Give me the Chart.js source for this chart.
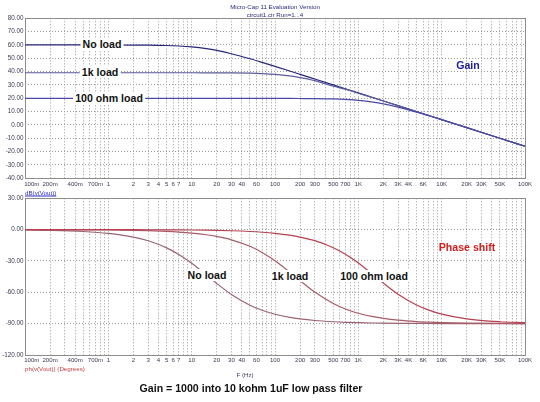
<!DOCTYPE html>
<html>
<head>
<meta charset="utf-8">
<script src="https://cdn.jsdelivr.net/npm/chart.js@4.4.1/dist/chart.umd.min.js"></script>
<style>
  body { margin: 0; background: #fff; font-family: "Liberation Sans", Arial, sans-serif; }
  #wrap { position: relative; width: 540px; height: 402px; overflow: hidden; }
  canvas { position: absolute; left: 0; }
  .txt { position: absolute; white-space: nowrap; transform: translate(-50%, -50%); }
  .lbl { font-weight: bold; font-size: 10.6px; line-height: 12px; background: #fff; padding: 0 2px; color: #111; }
  .small { font-size: 6.2px; line-height: 7px; }
</style>
</head>
<body>
<div id="wrap">
  <canvas id="gainChart" width="540" height="192" style="top:0"></canvas>
  <canvas id="phaseChart" width="540" height="210" style="top:192px"></canvas>

  <div class="txt small" style="left:275px;top:6px;color:#2a2a80">Micro-Cap 11 Evaluation Version</div>
  <div class="txt small" style="left:275px;top:14px;color:#2a2a80">circuit1.cir Run=1...4</div>

  <div class="txt lbl" style="left:102px;top:44px">No load</div>
  <div class="txt lbl" style="left:100px;top:72px">1k load</div>
  <div class="txt lbl" style="left:109px;top:98px">100 ohm load</div>
  <div class="txt lbl" style="left:468px;top:65px;color:#2020a0;background:none">Gain</div>
  <div class="txt small" style="left:25px;top:192px;transform:translate(0,-50%);color:#3030c0;text-decoration:underline">dB(v(Vout))</div>

  <div class="txt lbl" style="left:207px;top:275px">No load</div>
  <div class="txt lbl" style="left:290px;top:276px">1k load</div>
  <div class="txt lbl" style="left:374px;top:276px">100 ohm load</div>
  <div class="txt lbl" style="left:467px;top:247px;color:#d02020;background:none">Phase shift</div>
  <div class="txt small" style="left:25px;top:368px;transform:translate(0,-50%);color:#c04040">ph(v(Vout)) (Degrees)</div>
  <div class="txt small" style="left:245px;top:374px;color:#404060">F (Hz)</div>

  <div class="txt" style="left:251px;top:388px;font-weight:bold;font-size:10.6px;color:#111">Gain = 1000 into 10 kohm 1uF low pass filter</div>
</div>

<script>
// Frequency points (Hz)
const freqs = [0.1, 0.2, 0.5, 1, 2, 3, 5, 7, 10, 15, 20, 30, 50, 70, 100, 150, 200, 300, 500, 700,
  1000, 1500, 2000, 3000, 5000, 7000, 10000, 20000, 50000, 100000];

// Gain (dB) per load
const gainNoLoad = [60.00, 60.00, 60.00, 59.98, 59.93, 59.85, 59.59, 59.23, 58.55, 57.24, 55.88, 53.41, 49.63, 46.91, 43.92,
  40.46, 37.98, 34.47, 30.04, 27.12, 24.03, 20.51, 18.01, 14.49, 10.05, 7.12, 4.03, -1.99, -9.95, -15.97];
const gain1k = [39.17, 39.17, 39.17, 39.17, 39.17, 39.17, 39.17, 39.16, 39.16, 39.14, 39.11, 39.04, 38.83, 38.52, 37.94,
  36.78, 35.54, 33.22, 29.10, 26.87, 23.77, 20.39, 17.95, 14.46, 10.04, 7.13, 4.03, -1.99, -9.95, -15.97];
const gain100 = [19.91, 19.91, 19.91, 19.91, 19.91, 19.91, 19.91, 19.91, 19.91, 19.91, 19.91, 19.91, 19.91, 19.90, 19.89,
  19.87, 19.84, 19.76, 19.51, 19.16, 18.49, 17.19, 15.85, 13.40, 9.63, 6.91, 3.92, -2.04, -9.95, -15.96];

// Phase (degrees) per load
const phaseNoLoad = [-0.36, -0.72, -1.80, -3.60, -7.17, -10.68, -17.46, -23.76, -32.17, -43.33, -51.52, -62.08, -72.36, -77.20, -80.97,
  -83.95, -85.45, -86.97, -88.18, -88.70, -89.09, -89.39, -89.54, -89.70, -89.82, -89.87, -89.91, -89.95, -89.98, -89.99];
const phase1k = [-0.03, -0.07, -0.16, -0.33, -0.65, -0.98, -1.64, -2.29, -3.27, -4.90, -6.52, -9.73, -15.95, -21.80, -29.74,
  -40.60, -48.81, -59.74, -70.71, -75.96, -80.07, -83.35, -85.00, -86.66, -88.00, -88.57, -89.00, -89.50, -89.80, -89.90];
const phase100 = [0.00, -0.01, -0.02, -0.04, -0.07, -0.11, -0.18, -0.25, -0.36, -0.53, -0.71, -1.07, -1.78, -2.49, -3.56,
  -5.33, -7.09, -10.57, -17.27, -23.53, -31.87, -43.01, -51.20, -61.80, -72.17, -77.06, -80.87, -85.40, -88.16, -89.08];

// Frequency axis labels
const xLabelValues = [0.1, 0.2, 0.4, 0.7, 1, 2, 3, 4, 5, 6, 7, 10, 20, 30, 40, 60, 100, 200, 300, 500, 700,
  1000, 2000, 3000, 4000, 6000, 10000, 20000, 30000, 50000, 100000];
const xLabelTexts = ['100m', '200m', '400m', '700m', '1', '2', '3', '4', '5', '6', '7', '10', '20', '30', '40', '60',
  '100', '200', '300', '500', '700', '1K', '2K', '3K', '4K', '6K', '10K', '20K', '30K', '50K', '100K'];

const FONT = '"Liberation Sans", Arial, sans-serif';
const tickColor = '#3a3a55';
const gridColor = '#9a9a9a';

// gridlines at 1..9 of each decade
const gridValues = [];
[0.1, 1, 10, 100, 1000, 10000].forEach(d => {
  for (let k = 1; k <= 9; k++) gridValues.push(d * k);
});
gridValues.push(100000);

function xLabel(v) {
  const i = xLabelValues.findIndex(lv => Math.abs(v / lv - 1) < 1e-6);
  if (i < 0) return '';
  // first label sits to the right of its tick
  return i === 0 ? '        ' + xLabelTexts[0] : xLabelTexts[i];
}

const frame = {
  id: 'frame',
  beforeDatasetsDraw(chart) {
    const a = chart.chartArea;
    const ctx = chart.ctx;
    ctx.save();
    ctx.strokeStyle = '#8c8c8c';
    ctx.lineWidth = 1;
    ctx.strokeRect(Math.round(a.left) + 0.5, Math.round(a.top) + 0.5,
      Math.round(a.right - a.left), Math.round(a.bottom - a.top));
    ctx.restore();
  }
};

function xScale(height) {
  return {
    type: 'logarithmic',
    min: 0.1,
    max: 100000,
    afterBuildTicks: s => { s.ticks = gridValues.map(v => ({ value: v })); },
    afterFit: s => { s.height = height; },
    grid: { color: gridColor, lineWidth: 1, drawTicks: false },
    border: { display: false, dash: [1, 2] },
    ticks: {
      autoSkip: false, maxRotation: 0, minRotation: 0, padding: 2,
      color: tickColor, font: { family: FONT, size: 6.1 },
      callback: v => xLabel(v)
    }
  };
}

function yScale(min, max, step) {
  return {
    min: min, max: max,
    afterFit: s => { s.width = 25; },
    grid: { color: gridColor, lineWidth: 1, drawTicks: false },
    border: { display: false, dash: [1, 2] },
    ticks: {
      stepSize: step, padding: 1.5,
      color: tickColor, font: { family: FONT, size: 6.3 },
      callback: v => v.toFixed(2)
    }
  };
}

function series(values, color, width) {
  return {
    data: freqs.map((f, i) => ({ x: f, y: values[i] })),
    borderColor: color,
    borderWidth: width,
    pointRadius: 0,
    cubicInterpolationMode: 'monotone',
    fill: false
  };
}

const common = {
  responsive: false,
  animation: false,
  events: [],
  plugins: { legend: { display: false }, tooltip: { enabled: false } }
};

new Chart(document.getElementById('gainChart').getContext('2d'), {
  type: 'line',
  data: {
    datasets: [
      series(gain100, '#4a4aa8', 1.2),
      series(gain1k, '#5c5c9c', 1.2),
      series(gainNoLoad, '#26267a', 1.2)
    ]
  },
  options: Object.assign({}, common, {
    layout: { padding: { left: 0, right: 15, top: 18.3, bottom: 0 } },
    scales: { x: xScale(13.7), y: yScale(-40, 80, 10) }
  }),
  plugins: [frame]
});

new Chart(document.getElementById('phaseChart').getContext('2d'), {
  type: 'line',
  data: {
    datasets: [
      series(phase100, '#b84050', 1.2),
      series(phase1k, '#a85a66', 1.2),
      series(phaseNoLoad, '#9c6470', 1.2)
    ]
  },
  options: Object.assign({}, common, {
    layout: { padding: { left: 0, right: 15, top: 6.3, bottom: 33 } },
    scales: { x: xScale(14), y: yScale(-120, 30, 30) }
  }),
  plugins: [frame]
});
</script>
</body>
</html>
